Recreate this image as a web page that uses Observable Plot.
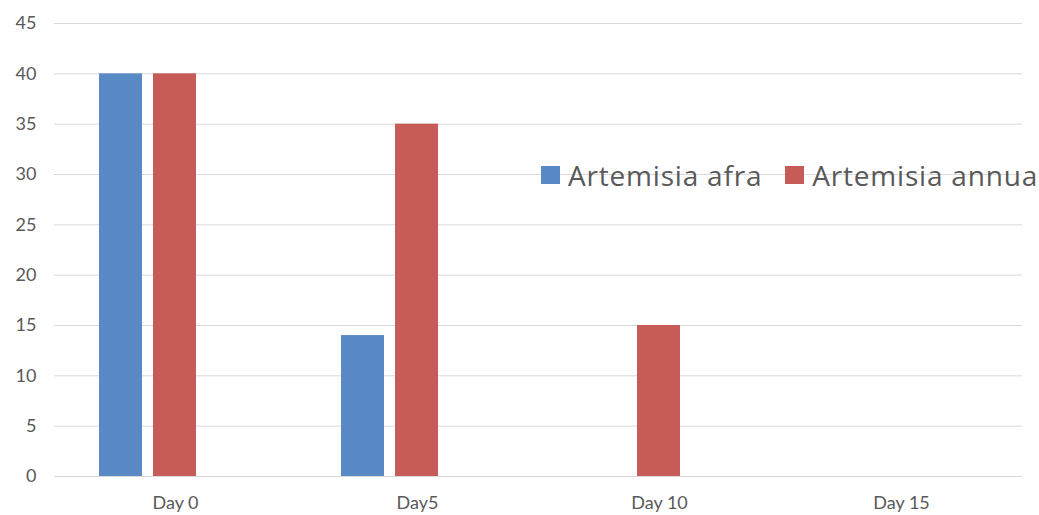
<!DOCTYPE html>
<html>
<head>
<meta charset="utf-8">
<script src="https://cdn.jsdelivr.net/npm/d3@7"></script>
<script src="https://cdn.jsdelivr.net/npm/@observablehq/plot@0.6"></script>
<style>
  html, body { margin: 0; padding: 0; background: #fff; }
  #wrap { position: relative; width: 1039px; height: 515px; font-family: Lato, "Open Sans", sans-serif; }
  #legend { position: absolute; left: 541px; top: 155px; height: 40px; display: flex; align-items: center; font-family: "Open Sans", sans-serif; font-size: 28px; letter-spacing: 0.8px; color: #595959; white-space: nowrap; }
  #legend .sw { display: inline-block; width: 19px; height: 18px; margin-right: 8px; }
  #legend .item { display: flex; align-items: center; margin-right: 23px; }
</style>
</head>
<body>
<div id="wrap"></div>
<script>
const days = ["Day 0", "Day5", "Day 10", "Day 15"];
const seriesNames = ["Artemisia afra", "Artemisia annua"];
const afraValues = [40, 14, 0, 0];
const annuaValues = [40, 35, 15, 0];
const colors = ["#5A8AC6", "#C65B58"];
const yTicks = [0, 5, 10, 15, 20, 25, 30, 35, 40, 45];

const data = [];
days.forEach((d, i) => {
  data.push({day: d, series: seriesNames[0], value: afraValues[i]});
  data.push({day: d, series: seriesNames[1], value: annuaValues[i]});
});

const chart = Plot.plot({
  width: 1039,
  height: 515,
  marginLeft: 53,
  marginRight: 17,
  marginTop: 23,
  marginBottom: 39,
  style: {fontFamily: "Lato, 'Open Sans', sans-serif", fontSize: "18px", color: "#595959", background: "#fff"},
  fx: {domain: days, padding: 0, label: null, tickSize: 0, tickPadding: 20},
  x: {domain: [...seriesNames, " "], paddingInner: 0.2, paddingOuter: 0.84, axis: null},
  y: {domain: [0, 45], ticks: yTicks, label: null, tickSize: 0, tickPadding: 18},
  color: {domain: seriesNames, range: colors},
  marks: [
    Plot.gridY(yTicks, {stroke: "#D9D9D9", strokeOpacity: 1, strokeWidth: 1}),
    Plot.barY(data, {fx: "day", x: "series", y: "value", fill: "series"}),
    Plot.ruleY([0], {stroke: "#D9D9D9", strokeWidth: 1})
  ]
});
document.getElementById("wrap").appendChild(chart);

const legend = document.createElement("div");
legend.id = "legend";
seriesNames.forEach((s, i) => {
  const item = document.createElement("div");
  item.className = "item";
  const sw = document.createElement("span");
  sw.className = "sw";
  sw.style.background = colors[i];
  item.appendChild(sw);
  item.appendChild(document.createTextNode(s));
  legend.appendChild(item);
});
document.getElementById("wrap").appendChild(legend);
</script>
</body>
</html>
